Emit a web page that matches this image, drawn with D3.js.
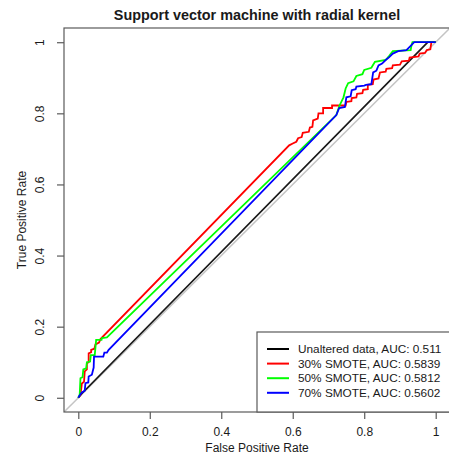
<!DOCTYPE html>
<html><head><meta charset="utf-8">
<script src="https://cdn.jsdelivr.net/npm/d3@7"></script>
<style>body{margin:0;background:#fff}svg{display:block}text{font-family:"Liberation Sans",Arial,sans-serif;fill:#1a1a1a}</style>
</head><body>
<script>
const title = "Support vector machine with radial kernel";
const xTitle = "False Positive Rate";
const yTitle = "True Positive Rate";
const tickValues = [0, 0.2, 0.4, 0.6, 0.8, 1];
const tickLabels = ["0", "0.2", "0.4", "0.6", "0.8", "1"];
const seriesNames = ["Unaltered data, AUC: 0.511", "30% SMOTE, AUC: 0.5839", "50% SMOTE, AUC: 0.5812", "70% SMOTE, AUC: 0.5602"];
const seriesColors = ["#000000", "#ff0000", "#00ff00", "#0000ff"];

// ROC points [FPR, TPR]
const blackPts = [[0,0],[0.01,0.012],[0.978,1],[1,1]];
const redPts = [[0,0],[0.006,0.008],[0.01,0.04],[0.016,0.045],[0.018,0.074],[0.024,0.08],[0.024,0.097],[0.029,0.1],[0.029,0.125],[0.036,0.128],[0.036,0.135],[0.045,0.138],[0.048,0.15],[0.058,0.155],[0.062,0.165],
 [0.59,0.71],[0.6,0.715],[0.61,0.72],[0.615,0.73],[0.625,0.733],[0.628,0.745],[0.645,0.748],[0.648,0.76],[0.655,0.762],[0.657,0.78],[0.67,0.785],[0.672,0.8],[0.685,0.8],[0.685,0.815],[0.71,0.815],[0.71,0.822],[0.748,0.822],[0.75,0.832],[0.764,0.834],[0.765,0.843],[0.778,0.845],[0.78,0.855],[0.795,0.857],[0.797,0.866],[0.81,0.868],[0.81,0.88],[0.824,0.882],[0.826,0.895],[0.84,0.898],[0.844,0.915],[0.86,0.917],[0.862,0.925],[0.878,0.927],[0.88,0.935],[0.9,0.937],[0.905,0.946],[0.925,0.948],[0.927,0.957],[0.952,0.96],[0.955,0.968],[0.97,0.97],[0.975,0.978],[0.985,0.98],[0.988,1],[1,1]];
const greenPts = [[0,0],[0.004,0.01],[0.006,0.055],[0.012,0.058],[0.014,0.08],[0.022,0.083],[0.024,0.1],[0.033,0.102],[0.035,0.12],[0.046,0.12],[0.05,0.163],[0.065,0.163],[0.066,0.168],[0.08,0.17],
 [0.722,0.795],[0.73,0.82],[0.742,0.845],[0.748,0.87],[0.755,0.885],[0.77,0.89],[0.778,0.905],[0.795,0.91],[0.8,0.922],[0.82,0.928],[0.83,0.945],[0.86,0.95],[0.87,0.962],[0.88,0.975],[0.93,0.978],[0.932,0.99],[0.935,1],[1,1]];
const bluePts = [[0,0],[0.006,0.01],[0.01,0.015],[0.018,0.02],[0.02,0.041],[0.028,0.043],[0.029,0.06],[0.038,0.065],[0.043,0.085],[0.044,0.116],[0.07,0.116],[0.073,0.127],[0.08,0.127],[0.085,0.135],
 [0.722,0.795],[0.73,0.815],[0.746,0.818],[0.75,0.845],[0.762,0.848],[0.765,0.865],[0.776,0.868],[0.778,0.875],[0.8,0.878],[0.805,0.88],[0.82,0.882],[0.825,0.915],[0.834,0.92],[0.84,0.935],[0.85,0.94],[0.86,0.95],[0.87,0.958],[0.88,0.968],[0.895,0.975],[0.918,0.978],[0.93,0.99],[0.94,1],[1,1]];
const allSeries = [blackPts, redPts, greenPts, bluePts];

const W = 449, H = 462;
const L = 64, R = 450, T = 28, B = 412;
const svg = d3.select("body").append("svg").attr("width", W).attr("height", H);
const x = d3.scaleLinear().domain([-0.04, 1.04]).range([L, R]);
const y = d3.scaleLinear().domain([-0.04, 1.04]).range([B, T]);

svg.append("defs").append("clipPath").attr("id", "clip")
  .append("rect").attr("x", L).attr("y", T).attr("width", R - L).attr("height", B - T);

const plot = svg.append("g").attr("clip-path", "url(#clip)");
plot.append("line")
  .attr("x1", x(-0.04)).attr("y1", y(-0.04)).attr("x2", x(1.04)).attr("y2", y(1.04))
  .attr("stroke", "#c4c4c4").attr("stroke-width", 1.5);

const line = d3.line().x(d => x(d[0])).y(d => y(d[1]));
allSeries.forEach((pts, i) => {
  plot.append("path").datum(pts).attr("d", line)
    .attr("fill", "none").attr("stroke", seriesColors[i]).attr("stroke-width", i === 0 ? 1.7 : 1.8)
    .attr("stroke-opacity", i === 0 ? 0.9 : 1);
});

svg.append("rect").attr("x", L).attr("y", T).attr("width", R - L).attr("height", B - T)
  .attr("fill", "none").attr("stroke", "#5a5a5a").attr("stroke-width", 1.2);

const xa = svg.append("g").attr("transform", `translate(0,${B})`)
  .call(d3.axisBottom(x).tickValues(tickValues).tickFormat((d, i) => tickLabels[i]).tickSize(7).tickPadding(8));
xa.select(".domain").remove();
xa.selectAll("line").attr("stroke", "#5a5a5a").attr("stroke-width", 1.2);
xa.selectAll("text").attr("font-size", 12).attr("fill", "#1a1a1a").style("font-family", '"Liberation Sans",Arial,sans-serif');

const ya = svg.append("g").attr("transform", `translate(${L},0)`)
  .call(d3.axisLeft(y).tickValues(tickValues).tickFormat((d, i) => tickLabels[i]).tickSize(7).tickPadding(0));
ya.select(".domain").remove();
ya.selectAll("line").attr("stroke", "#5a5a5a").attr("stroke-width", 1.2);
ya.selectAll("text").attr("font-size", 12).attr("fill", "#1a1a1a")
  .style("font-family", '"Liberation Sans",Arial,sans-serif')
  .attr("x", 0).attr("dy", null).attr("text-anchor", "middle")
  .attr("transform", "translate(-20.5,0) rotate(-90)");

svg.append("text").attr("x", (L + R) / 2).attr("y", 20).attr("text-anchor", "middle")
  .attr("font-size", 14.4).attr("font-weight", "bold").text(title);
svg.append("text").attr("x", (L + R) / 2).attr("y", 452).attr("text-anchor", "middle")
  .attr("font-size", 12).text(xTitle);
svg.append("text").attr("transform", `translate(26,${(T + B) / 2}) rotate(-90)`).attr("text-anchor", "middle")
  .attr("font-size", 12).text(yTitle);

const lg = svg.append("g");
lg.append("rect").attr("x", 257).attr("y", 332).attr("width", 200).attr("height", B - 332)
  .attr("fill", "#fff").attr("stroke", "#5a5a5a").attr("stroke-width", 1.2);
seriesNames.forEach((name, i) => {
  const cy = 349 + i * 14.6;
  lg.append("line").attr("x1", 267).attr("x2", 289).attr("y1", cy).attr("y2", cy)
    .attr("stroke", seriesColors[i]).attr("stroke-width", 2);
  lg.append("text").attr("x", 298).attr("y", cy + 4).attr("font-size", 11.8).text(name);
});
</script>
</body></html>
